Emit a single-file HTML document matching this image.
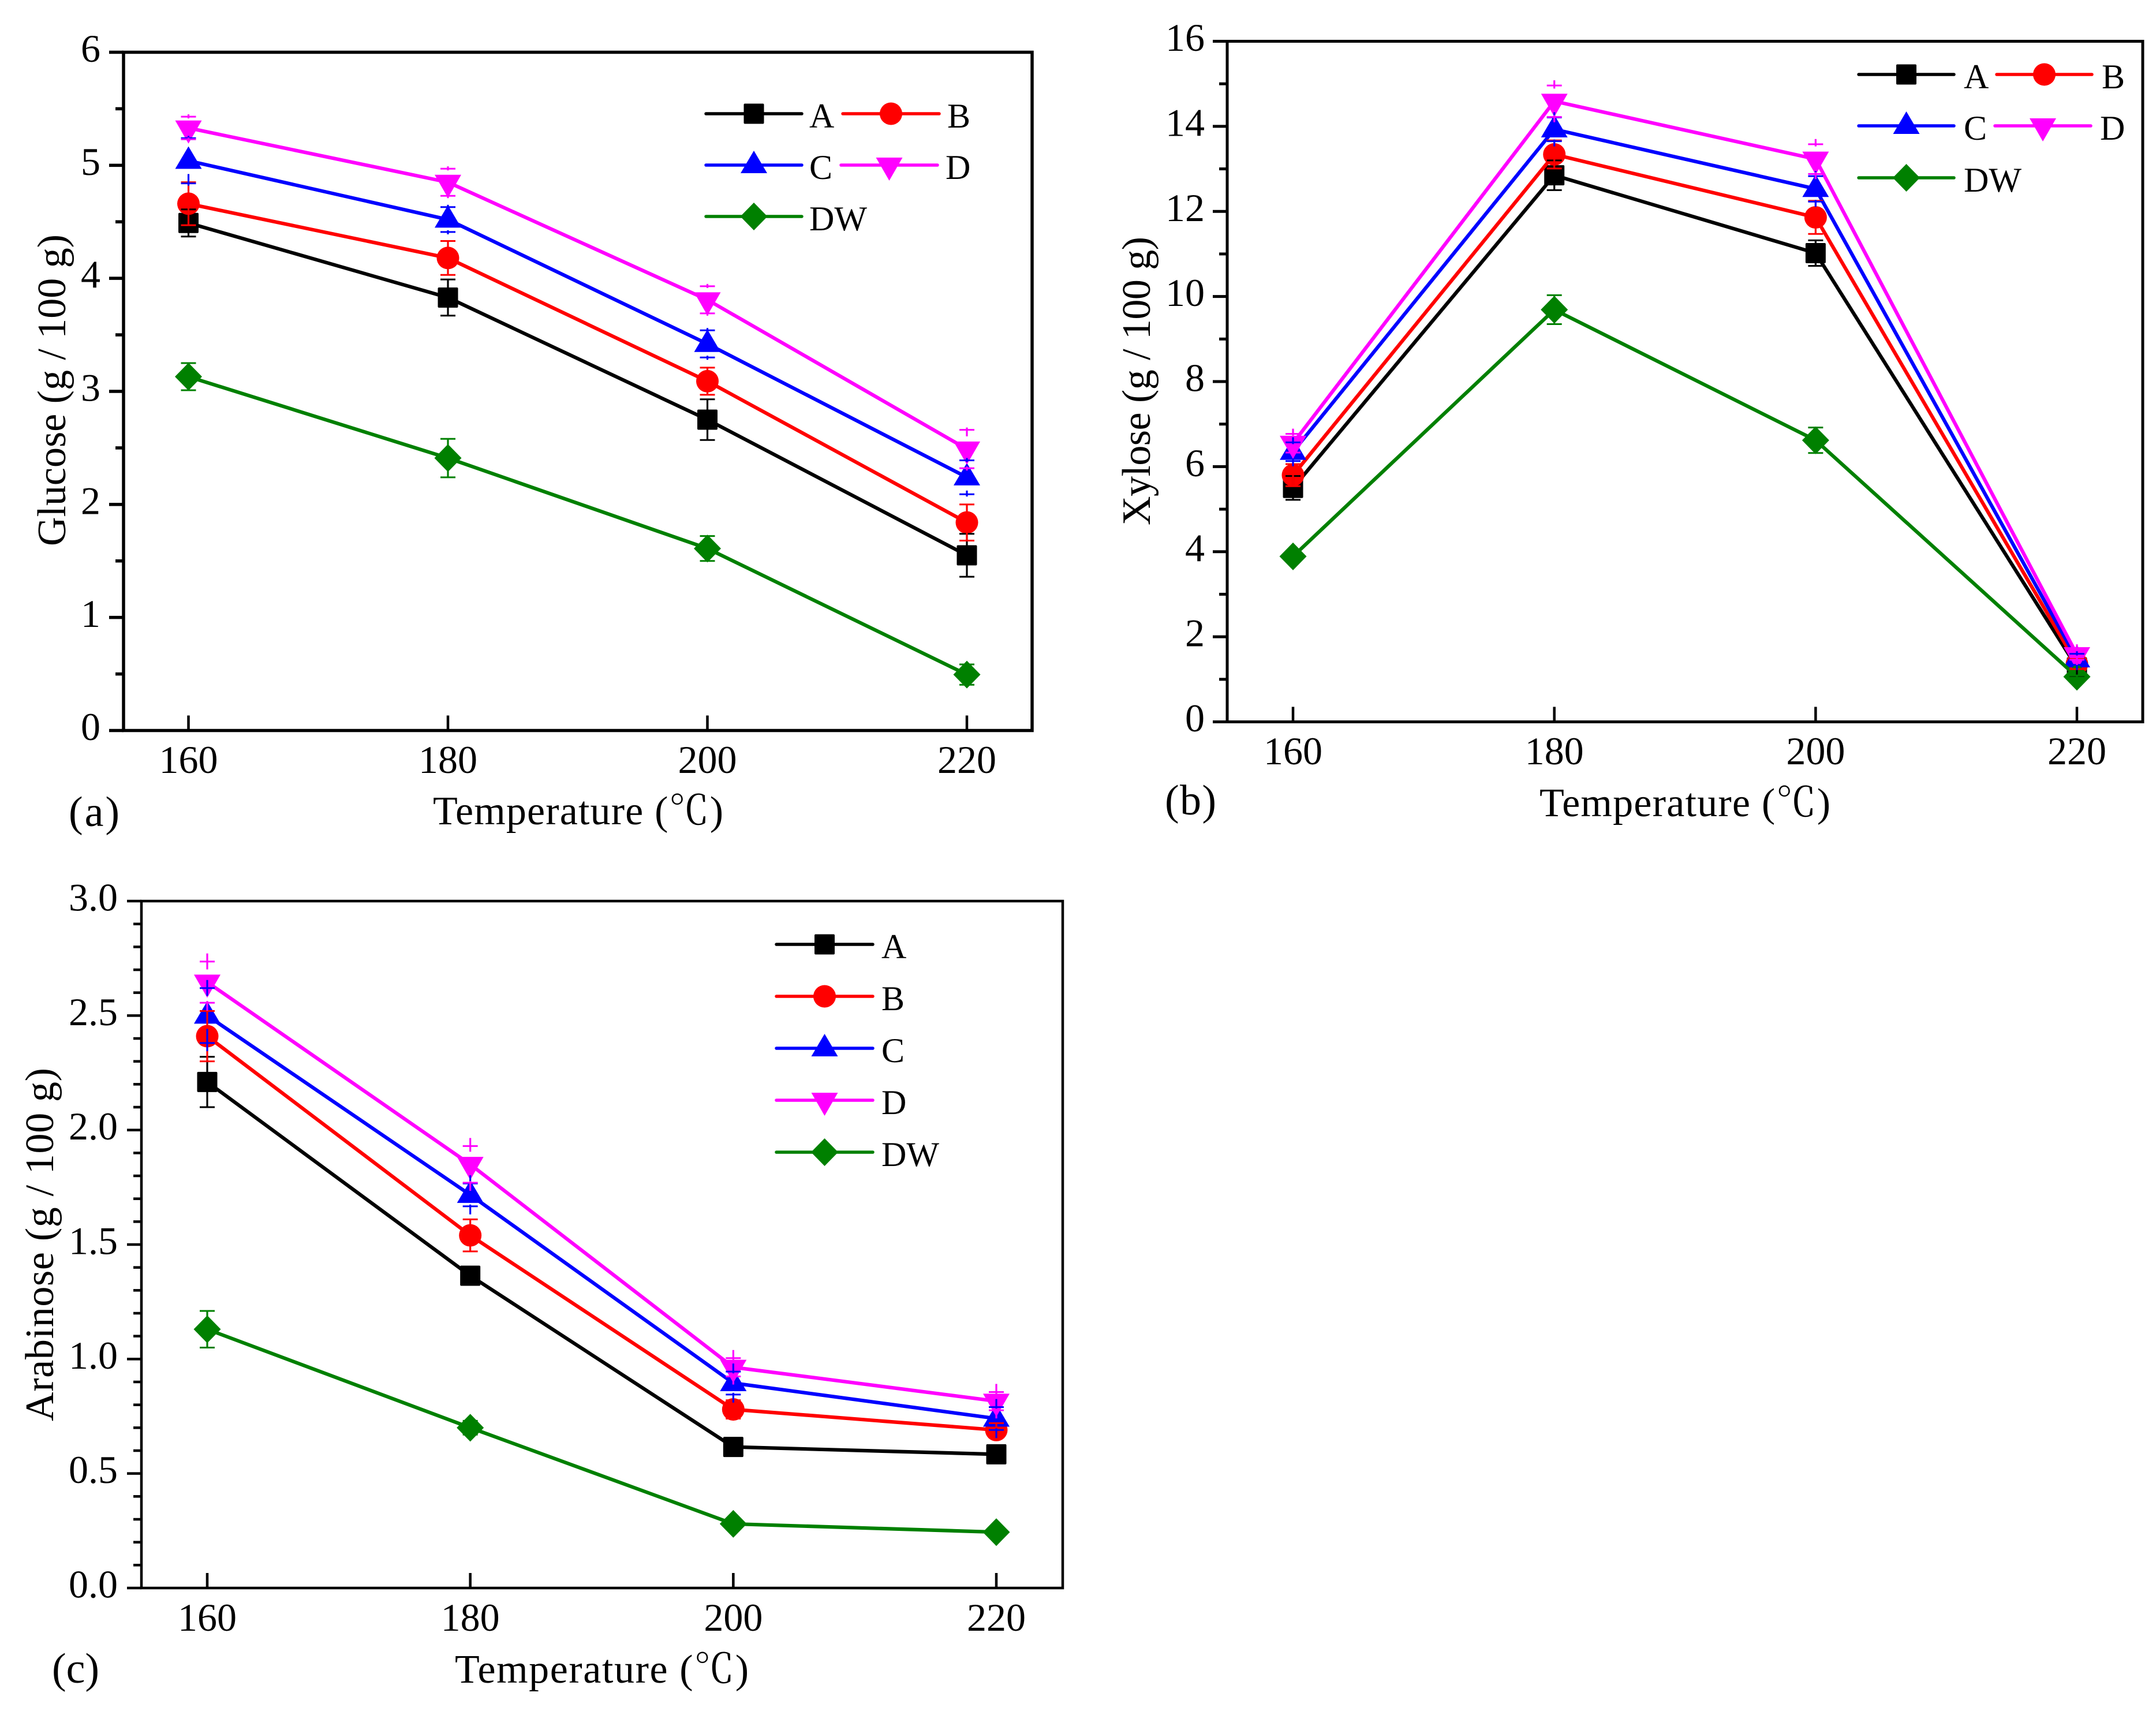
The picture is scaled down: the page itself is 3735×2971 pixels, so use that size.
<!DOCTYPE html>
<html lang="en">
<head>
<meta charset="utf-8">
<title>Glucose, xylose and arabinose yield vs temperature</title>
<style>
html,body{margin:0;padding:0;background:#fff;}
svg{display:block;}
text{font-family:"Liberation Serif","Noto Serif CJK SC",serif;fill:#000;}
</style>
</head>
<body>
<svg id="figure" xmlns="http://www.w3.org/2000/svg" width="3735" height="2971" viewBox="0 0 3735 2971">
  <rect x="0" y="0" width="3735" height="2971" fill="#fff"/>

  <g id="panel-a">
    <text transform="translate(113,946) rotate(-90)" font-size="70" textLength="540">Glucose (g / 100 g)</text>
    <text x="750" y="1428" font-size="70" textLength="503">Temperature (℃)</text>
    <text x="119" y="1431" font-size="74" textLength="88">(a)</text>
    <g font-size="60">
      <text x="1402" y="221">A</text>
      <text x="1641" y="221">B</text>
      <text x="1402" y="310">C</text>
      <text x="1638" y="310">D</text>
      <text x="1402" y="399">DW</text>
    </g>
  </g>

  <g id="panel-b">
    <text transform="translate(1992,910) rotate(-90)" font-size="70" textLength="500">Xylose (g / 100 g)</text>
    <text x="2667" y="1414" font-size="70" textLength="504">Temperature (℃)</text>
    <text x="2018" y="1411" font-size="74" textLength="89">(b)</text>
    <g font-size="60">
      <text x="3402" y="153">A</text>
      <text x="3641" y="153">B</text>
      <text x="3402" y="242">C</text>
      <text x="3638" y="242">D</text>
      <text x="3402" y="332">DW</text>
    </g>
  </g>

  <g id="panel-c">
    <text transform="translate(92,2462) rotate(-90)" font-size="70" textLength="612">Arabinose (g / 100 g)</text>
    <text x="788" y="2915" font-size="70" textLength="509">Temperature (℃)</text>
    <text x="90" y="2915" font-size="74" textLength="82">(c)</text>
    <g font-size="60">
      <text x="1527" y="1660">A</text>
      <text x="1527" y="1750">B</text>
      <text x="1527" y="1840">C</text>
      <text x="1527" y="1930">D</text>
      <text x="1527" y="2020">DW</text>
    </g>
  </g>
</svg>

<script>
// ---- shared categories ----
const temperatures = [160, 180, 200, 220];
const seriesNames = ['A', 'B', 'C', 'D', 'DW'];

// ---- panel (a) glucose ----
const glucoseA = [4.49, 3.83, 2.75, 1.55];
const glucoseB = [4.66, 4.18, 3.09, 1.84];
const glucoseC = [5.04, 4.52, 3.42, 2.24];
const glucoseD = [5.33, 4.85, 3.81, 2.49];
const glucoseDW = [3.13, 2.41, 1.61, 0.495];
const glucoseErrA = [0.12, 0.16, 0.18, 0.19];
const glucoseErrB = [0.19, 0.15, 0.12, 0.16];
const glucoseErrC = [0.20, 0.11, 0.12, 0.15];
const glucoseErrD = [0.10, 0.12, 0.12, 0.17];
const glucoseErrDW = [0.12, 0.17, 0.11, 0.09];
const glucoseTicks = ['0', '1', '2', '3', '4', '5', '6'];

// ---- panel (b) xylose ----
const xyloseA = [5.5, 12.85, 11.02, 1.28];
const xyloseB = [5.8, 13.34, 11.86, 1.36];
const xyloseC = [6.35, 13.93, 12.53, 1.47];
const xyloseD = [6.55, 14.59, 13.23, 1.58];
const xyloseDW = [3.89, 9.69, 6.62, 1.06];
const xyloseErrA = [0.28, 0.35, 0.30, 0.20];
const xyloseErrB = [0.26, 0.33, 0.39, 0.12];
const xyloseErrC = [0.22, 0.28, 0.30, 0.13];
const xyloseErrD = [0.22, 0.37, 0.35, 0.12];
const xyloseErrDW = [0.10, 0.34, 0.30, 0.03];
const xyloseTicks = ['0', '2', '4', '6', '8', '10', '12', '14', '16'];

// ---- panel (c) arabinose ----
const arabinoseA = [2.21, 1.364, 0.616, 0.584];
const arabinoseB = [2.41, 1.54, 0.78, 0.69];
const arabinoseC = [2.5, 1.717, 0.895, 0.74];
const arabinoseD = [2.646, 1.85, 0.964, 0.816];
const arabinoseDW = [1.13, 0.70, 0.28, 0.244];
const arabinoseErrA = [0.11, 0.02, 0.01, 0.01];
const arabinoseErrB = [0.11, 0.07, 0.04, 0.03];
const arabinoseErrC = [0.12, 0.05, 0.05, 0.05];
const arabinoseErrD = [0.09, 0.08, 0.04, 0.04];
const arabinoseErrDW = [0.08, 0.03, 0.01, 0.01];
const arabinoseTicks = ['0.0', '0.5', '1.0', '1.5', '2.0', '2.5', '3.0'];

const seriesColors = ['#000000', '#ff0000', '#0000ff', '#ff00ff', '#008000'];
const SVGNS = 'http://www.w3.org/2000/svg';

function make(parent, tag, attrs) {
  const el = document.createElementNS(SVGNS, tag);
  for (const k in attrs) el.setAttribute(k, attrs[k]);
  parent.appendChild(el);
  return el;
}

// marker extents relative to the data point: [up, down]
function markerExtent(i) {
  return [[17.5, 17.5], [19.5, 19.5], [25, 14], [13, 27], [24, 24]][i];
}

function drawMarker(parent, i, cx, cy) {
  const c = seriesColors[i];
  let el;
  if (i === 0) {
    el = make(parent, 'rect', { x: cx - 17.5, y: cy - 17.5, width: 35, height: 35, rx: 2, fill: c });
  } else if (i === 1) {
    el = make(parent, 'circle', { cx: cx, cy: cy, r: 19.5, fill: c });
  } else if (i === 2) {
    el = make(parent, 'polygon', { points: `${cx},${cy - 25} ${cx + 23},${cy + 14} ${cx - 23},${cy + 14}`, fill: c });
  } else if (i === 3) {
    el = make(parent, 'polygon', { points: `${cx - 23},${cy - 13} ${cx + 23},${cy - 13} ${cx},${cy + 27}`, fill: c });
  } else {
    el = make(parent, 'polygon', { points: `${cx},${cy - 24} ${cx + 23.5},${cy} ${cx},${cy + 24} ${cx - 23.5},${cy}`, fill: c });
  }
  
  
  return el;
}

function drawPanel(cfg) {
  const root = document.getElementById(cfg.id);
  const x = t => cfg.xAt160 + (t - 160) * (cfg.xAt220 - cfg.xAt160) / 60;
  const y = v => cfg.bottom - (v / cfg.yMax) * (cfg.bottom - cfg.top);

  // frame
  const frame = make(root, 'rect', {
    x: cfg.left, y: cfg.top, width: cfg.right - cfg.left, height: cfg.bottom - cfg.top,
    fill: 'none', stroke: '#000', 'stroke-width': cfg.axisWidth
  });
  
  

  // y ticks and labels
  const majorCount = cfg.yLabels.length - 1;
  const majorStep = cfg.yMax / majorCount;
  for (let m = 0; m <= majorCount; m++) {
    const v = m * majorStep;
    const tick = make(root, 'line', {
      x1: cfg.left - 25, x2: cfg.left, y1: y(v), y2: y(v), stroke: '#000', 'stroke-width': cfg.axisWidth
    });
    
    

    const label = make(root, 'text', {
      x: cfg.yLabelRight, y: y(v) + 16.5, 'font-size': 68, 'text-anchor': 'end'
    });
    label.textContent = cfg.yLabels[m];
    
    

    if (m < majorCount) {
      for (let s = 1; s <= cfg.minorPerMajor; s++) {
        const mv = v + s * majorStep / (cfg.minorPerMajor + 1);
        const minor = make(root, 'line', {
          x1: cfg.left - 14, x2: cfg.left, y1: y(mv), y2: y(mv), stroke: '#000', 'stroke-width': cfg.axisWidth
        });
        
        
      }
    }
  }

  // x ticks and labels
  temperatures.forEach(t => {
    const tick = make(root, 'line', {
      x1: x(t), x2: x(t), y1: cfg.bottom - 26, y2: cfg.bottom, stroke: '#000', 'stroke-width': 4.5
    });
    
    

    const label = make(root, 'text', {
      x: x(t), y: cfg.xLabelBase, 'font-size': 68, 'text-anchor': 'middle'
    });
    label.textContent = String(t);
    
    
  });

  // lines and markers
  cfg.values.forEach((vals, i) => {
    const line = make(root, 'polyline', {
      points: vals.map((v, k) => `${x(temperatures[k])},${y(v)}`).join(' '),
      fill: 'none', stroke: seriesColors[i], 'stroke-width': 6.2, 'stroke-linejoin': 'round'
    });
    
    
    vals.forEach((v, k) => drawMarker(root, i, x(temperatures[k]), y(v)));
  });

  // error bars on top of the markers
  cfg.values.forEach((vals, i) => {
    const errs = cfg.errors[i];
    const gapped = (i === 2 || i === 3);
    const ext = markerExtent(i);
    vals.forEach((v, k) => {
      const cx = x(temperatures[k]);
      const cy = y(v);
      const topCap = y(v + errs[k]);
      const botCap = y(v - errs[k]);
      const nub = gapped ? cfg.nub : 0;
      const innerTop = gapped ? Math.max(cy - ext[0] - 9, topCap + 3) : cy;
      const innerBot = gapped ? Math.min(cy + ext[1] + 9, botCap - 3) : cy;
      [[topCap - nub, innerTop], [botCap + nub, innerBot]].forEach(seg => {
        const stem = make(root, 'line', {
          x1: cx, x2: cx, y1: seg[0], y2: seg[1], stroke: seriesColors[i], 'stroke-width': 3.2
        });
        
        
      });
      [topCap, botCap].forEach(cap => {
        const capLine = make(root, 'line', {
          x1: cx - 13, x2: cx + 13, y1: cap, y2: cap, stroke: seriesColors[i], 'stroke-width': 3
        });
        
        
      });
    });
  });

  // legend keys
  cfg.legend.forEach((row, i) => {
    const key = make(root, 'line', {
      x1: row.x1, x2: row.x2, y1: row.y, y2: row.y, stroke: seriesColors[i],
      'stroke-width': 5.5, 'stroke-linecap': 'round'
    });
    
    
    drawMarker(root, i, (row.x1 + row.x2) / 2, row.y);
  });
}

drawPanel({
  id: 'panel-a', left: 214, right: 1788, top: 90.5, bottom: 1265.5, yMax: 6,
  xAt160: 326.5, xAt220: 1675, axisWidth: 5.5, yLabelRight: 174, xLabelBase: 1339,
  minorPerMajor: 1, nub: 4, yLabels: glucoseTicks,
  values: [glucoseA, glucoseB, glucoseC, glucoseD, glucoseDW],
  errors: [glucoseErrA, glucoseErrB, glucoseErrC, glucoseErrD, glucoseErrDW],
  legend: [
    { x1: 1223, x2: 1389, y: 197 }, { x1: 1460, x2: 1627, y: 197 },
    { x1: 1223, x2: 1389, y: 286 }, { x1: 1457, x2: 1624, y: 286 },
    { x1: 1223, x2: 1389, y: 375 }
  ]
});

drawPanel({
  id: 'panel-b', left: 2126, right: 3712, top: 71.5, bottom: 1250.5, yMax: 16,
  xAt160: 2240, xAt220: 3598, axisWidth: 5, yLabelRight: 2087, xLabelBase: 1324,
  minorPerMajor: 1, nub: 9, yLabels: xyloseTicks,
  values: [xyloseA, xyloseB, xyloseC, xyloseD, xyloseDW],
  errors: [xyloseErrA, xyloseErrB, xyloseErrC, xyloseErrD, xyloseErrDW],
  legend: [
    { x1: 3220, x2: 3385, y: 129 }, { x1: 3459, x2: 3624, y: 129 },
    { x1: 3220, x2: 3385, y: 218 }, { x1: 3456, x2: 3622, y: 218 },
    { x1: 3220, x2: 3385, y: 308 }
  ]
});

drawPanel({
  id: 'panel-c', left: 245, right: 1841, top: 1561, bottom: 2751, yMax: 3,
  xAt160: 359, xAt220: 1726, axisWidth: 4.5, yLabelRight: 204, xLabelBase: 2825,
  minorPerMajor: 4, nub: 14, yLabels: arabinoseTicks,
  values: [arabinoseA, arabinoseB, arabinoseC, arabinoseD, arabinoseDW],
  errors: [arabinoseErrA, arabinoseErrB, arabinoseErrC, arabinoseErrD, arabinoseErrDW],
  legend: [
    { x1: 1345, x2: 1512, y: 1636 }, { x1: 1345, x2: 1512, y: 1726 },
    { x1: 1345, x2: 1512, y: 1816 }, { x1: 1345, x2: 1512, y: 1906 },
    { x1: 1345, x2: 1512, y: 1996 }
  ]
});
</script>
</body>
</html>
